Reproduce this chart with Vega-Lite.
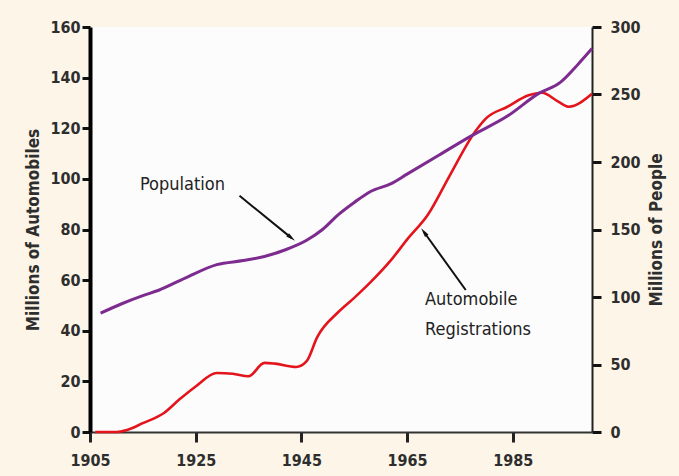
{
  "$schema": "https://vega.github.io/schema/vega-lite/v6.json",
  "width": 502,
  "height": 405,
  "autosize": {"type": "none"},
  "padding": {"left": 90, "top": 27, "right": 87, "bottom": 44},
  "background": "#fdf6e8",
  "config": {
    "view": {"stroke": null, "fill": "#fcfcfc"},
    "font": "DejaVu Sans Condensed, sans-serif",
    "axis": {
      "labelFont": "DejaVu Sans Condensed, sans-serif",
      "titleFont": "DejaVu Sans Condensed, sans-serif",
      "labelFontSize": 16,
      "labelFontWeight": "bold",
      "labelColor": "#2e2e2e",
      "titleFontSize": 17,
      "titleFontWeight": "bold",
      "titleColor": "#2e2e2e",
      "grid": false
    }
  },
  "datasets": {
    "pop": [
      {"year": 1907, "people": 88}, {"year": 1911, "people": 95}, {"year": 1915, "people": 101},
      {"year": 1918, "people": 105}, {"year": 1923, "people": 114}, {"year": 1929, "people": 124},
      {"year": 1934, "people": 127}, {"year": 1938, "people": 130}, {"year": 1942, "people": 135},
      {"year": 1946, "people": 142}, {"year": 1949, "people": 150}, {"year": 1952, "people": 161},
      {"year": 1955, "people": 170}, {"year": 1958, "people": 178}, {"year": 1962, "people": 184},
      {"year": 1965, "people": 191}, {"year": 1971, "people": 205}, {"year": 1977, "people": 219},
      {"year": 1984, "people": 234}, {"year": 1990, "people": 251}, {"year": 1994, "people": 259},
      {"year": 1997.5, "people": 273}, {"year": 2000, "people": 284}
    ],
    "auto": [
      {"year": 1906, "cars": 0}, {"year": 1910, "cars": 0}, {"year": 1912, "cars": 0.8},
      {"year": 1915, "cars": 3.5}, {"year": 1919, "cars": 7.5}, {"year": 1922, "cars": 13},
      {"year": 1925, "cars": 18}, {"year": 1929, "cars": 23.3}, {"year": 1932, "cars": 23},
      {"year": 1935, "cars": 22}, {"year": 1938, "cars": 27.3}, {"year": 1940, "cars": 27},
      {"year": 1944, "cars": 25.7}, {"year": 1946, "cars": 28}, {"year": 1948, "cars": 37.5},
      {"year": 1952, "cars": 47.4}, {"year": 1955, "cars": 53}, {"year": 1958, "cars": 59},
      {"year": 1962, "cars": 68}, {"year": 1965, "cars": 76}, {"year": 1969, "cars": 86},
      {"year": 1973, "cars": 101}, {"year": 1978, "cars": 119}, {"year": 1980, "cars": 124},
      {"year": 1984, "cars": 128.5}, {"year": 1988, "cars": 133}, {"year": 1990.5, "cars": 134},
      {"year": 1993.7, "cars": 130.4}, {"year": 1995.6, "cars": 128.5}, {"year": 2000, "cars": 133.6}
    ],
    "labels": [
      {"x": 1922.5, "y": 97.6, "text": "Population", "kind": "pop"},
      {"x": 1968.4, "y": 52.2, "text": "Automobile", "kind": "auto"},
      {"x": 1968.4, "y": 40.3, "text": "Registrations", "kind": "auto"}
    ],
    "arrows": [
      {"x": 1933.3, "y": 93.3, "x2": 1943.1, "y2": 76.7, "kind": "pop"},
      {"x": 1976.1, "y": 56.1, "x2": 1968.2, "y2": 79, "kind": "auto"}
    ]
  },
  "layer": [
    {
      "layer": [
        {
          "data": {"name": "auto"},
          "mark": {"type": "line", "color": "#e3141c", "strokeWidth": 2.6, "interpolate": "monotone"},
          "encoding": {
            "x": {"field": "year", "type": "quantitative",
              "scale": {"domain": [1905, 2000], "nice": false, "zero": false},
              "axis": {"values": [1905, 1925, 1945, 1965, 1985], "format": "d", "title": null,
                "labelFlush": false,
                "domainColor": "#333", "domainWidth": 2, "tickColor": "#222", "tickWidth": 3,
                "tickSize": 10, "labelPadding": 10}},
            "y": {"field": "cars", "type": "quantitative",
              "scale": {"domain": [0, 160], "nice": false},
              "axis": {"values": [0, 20, 40, 60, 80, 100, 120, 140, 160], "title": "Millions of Automobiles",
                "labelFlush": false,
                "domainColor": "#000", "domainWidth": 4, "tickColor": "#111", "tickWidth": 3,
                "tickSize": 8, "labelPadding": 2, "titlePadding": 7}}
          }
        },
        {
          "mark": {"type": "rule", "color": "#111", "strokeWidth": 4},
          "encoding": {"y": {"datum": 160}}
        },
        {
          "data": {"name": "labels"},
          "transform": [{"filter": "datum.kind === 'pop'"}],
          "mark": {"type": "text", "fontSize": 18, "align": "center", "baseline": "middle", "color": "#222"},
          "encoding": {
            "x": {"field": "x", "type": "quantitative"},
            "y": {"field": "y", "type": "quantitative"},
            "text": {"field": "text"}
          }
        },
        {
          "data": {"name": "labels"},
          "transform": [{"filter": "datum.kind === 'auto'"}],
          "mark": {"type": "text", "fontSize": 18, "align": "left", "baseline": "middle", "color": "#222"},
          "encoding": {
            "x": {"field": "x", "type": "quantitative"},
            "y": {"field": "y", "type": "quantitative"},
            "text": {"field": "text"}
          }
        },
        {
          "data": {"name": "arrows"},
          "mark": {"type": "rule", "color": "#111", "strokeWidth": 2},
          "encoding": {
            "x": {"field": "x", "type": "quantitative"},
            "y": {"field": "y", "type": "quantitative"},
            "x2": {"field": "x2"},
            "y2": {"field": "y2"}
          }
        },
        {
          "data": {"name": "arrows"},
          "transform": [{"filter": "datum.kind === 'pop'"}],
          "mark": {"type": "point", "shape": "M0,-1L0.45,1L-0.45,1Z", "filled": true, "color": "#111", "size": 90, "angle": 129, "opacity": 1},
          "encoding": {
            "x": {"field": "x2", "type": "quantitative"},
            "y": {"field": "y2", "type": "quantitative"}
          }
        },
        {
          "data": {"name": "arrows"},
          "transform": [{"filter": "datum.kind === 'auto'"}],
          "mark": {"type": "point", "shape": "M0,-1L0.45,1L-0.45,1Z", "filled": true, "color": "#111", "size": 90, "angle": 324, "opacity": 1},
          "encoding": {
            "x": {"field": "x2", "type": "quantitative"},
            "y": {"field": "y2", "type": "quantitative"}
          }
        }
      ]
    },
    {
      "data": {"name": "pop"},
      "mark": {"type": "line", "color": "#7d2b8f", "strokeWidth": 3, "interpolate": "monotone"},
      "encoding": {
        "x": {"field": "year", "type": "quantitative"},
        "y": {"field": "people", "type": "quantitative",
          "scale": {"domain": [0, 300], "nice": false},
          "axis": {"orient": "right", "values": [0, 50, 100, 150, 200, 250, 300], "title": "Millions of People",
            "labelFlush": false,
            "titleAngle": 270, "titleBaseline": "top", "domainColor": "#222", "domainWidth": 2, "tickColor": "#111", "tickWidth": 3,
            "tickSize": 9, "labelPadding": 9, "titlePadding": 8}}
      }
    }
  ],
  "resolve": {"scale": {"y": "independent"}}
}
